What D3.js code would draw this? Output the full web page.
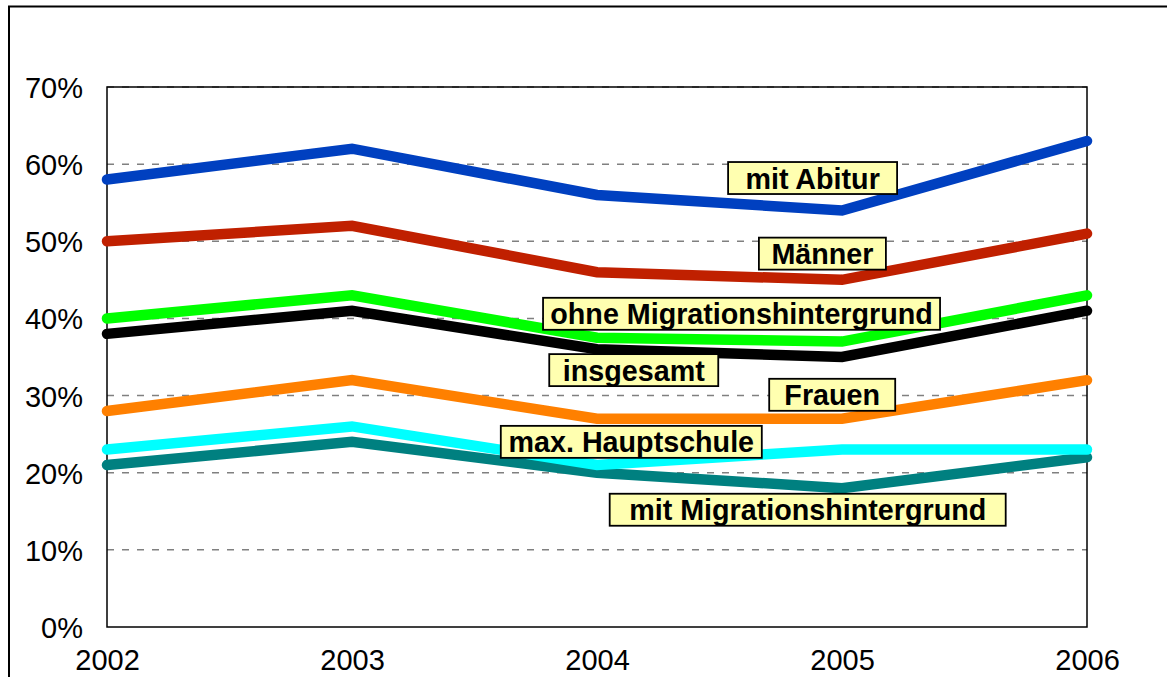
<!DOCTYPE html>
<html>
<head>
<meta charset="utf-8">
<script src="https://cdn.jsdelivr.net/npm/d3@7"></script>
<style>
  html, body { margin: 0; padding: 0; background: #fff; }
  svg { display: block; }
</style>
</head>
<body>
<svg id="chart" width="1167" height="677"></svg>
<script>
// ---- data ----
const years = [2002, 2003, 2004, 2005, 2006];
const yTicks = [0, 10, 20, 30, 40, 50, 60, 70];

const mitMigration   = [21, 24, 20, 18, 22];
const maxHauptschule = [23, 26, 21, 23, 23];
const frauen         = [28, 32, 27, 27, 32];
const insgesamt      = [38, 41, 36, 35, 41];
const ohneMigration  = [40, 43, 37.5, 37, 43];
const maenner        = [50, 52, 46, 45, 51];
const mitAbitur      = [58, 62, 56, 54, 63];

const seriesNames = ["mit Migrationshintergrund", "max. Hauptschule", "Frauen", "insgesamt",
                     "ohne Migrationshintergrund", "Männer", "mit Abitur"];
const seriesValues = [mitMigration, maxHauptschule, frauen, insgesamt, ohneMigration, maenner, mitAbitur];
const seriesColors = ["#008080", "#00FFFF", "#FF8000", "#000000", "#00FF00", "#C02000", "#0040C0"];

// label anchors in data space (year, percent) and box widths
const labelText  = ["mit Abitur", "Männer", "ohne Migrationshintergrund", "insgesamt",
                    "Frauen", "max. Hauptschule", "mit Migrationshintergrund"];
const labelYear  = [2004.88, 2004.92, 2004.59, 2004.15, 2004.96, 2004.14, 2004.86];
const labelPct   = [58.2, 48.4, 40.6, 33.3, 30.1, 24.0, 15.2];
const labelWidth = [169, 127, 397, 169, 126, 261, 396];

// ---- layout ----
const svg = d3.select("#chart");
const mLeft = 107, mRight = 1087, mTop = 87, mBottom = 627;

const x = d3.scaleLinear().domain([2002, 2006]).range([mLeft, mRight]);
const y = d3.scaleLinear().domain([0, 70]).range([mBottom, mTop]);

// outer frame (only top & left visible)
svg.append("rect")
  .attr("x", 9).attr("y", 6.5)
  .attr("width", 1300).attr("height", 1000)
  .attr("fill", "none").attr("stroke", "#000").attr("stroke-width", 2);

// gridlines
svg.append("g")
  .selectAll("line")
  .data(yTicks.filter(d => d > 0))
  .join("line")
  .attr("x1", mLeft).attr("x2", mRight)
  .attr("y1", d => y(d)).attr("y2", d => y(d))
  .attr("stroke", "#808080")
  .attr("stroke-width", 1.5)
  .attr("stroke-dasharray", "7,8");

// plot border
svg.append("rect")
  .attr("x", mLeft).attr("y", mTop)
  .attr("width", mRight - mLeft).attr("height", mBottom - mTop)
  .attr("fill", "none").attr("stroke", "#000").attr("stroke-width", 1.5);

// y axis labels
const yAxis = d3.axisLeft(y).tickValues(yTicks).tickFormat(d => d + "%").tickSize(0).tickPadding(24);
const gy = svg.append("g").attr("transform", `translate(${mLeft},0)`).call(yAxis);
gy.select(".domain").remove();
gy.selectAll("text")
  .attr("font-family", "Liberation Sans, Arial, sans-serif")
  .attr("font-size", 29)
  .attr("fill", "#000")
  .attr("dy", "0.36em");

// x axis labels
const xAxis = d3.axisBottom(x).tickValues(years).tickFormat(d3.format("d")).tickSize(0).tickPadding(0);
const gx = svg.append("g").attr("transform", `translate(0,${mBottom})`).call(xAxis);
gx.select(".domain").remove();
gx.selectAll("text")
  .attr("font-family", "Liberation Sans, Arial, sans-serif")
  .attr("font-size", 29)
  .attr("fill", "#000")
  .attr("y", 43)
  .attr("dy", "0");

// lines
const line = d3.line().x((d, i) => x(years[i])).y(d => y(d));
svg.append("g")
  .selectAll("path")
  .data(seriesValues)
  .join("path")
  .attr("d", d => line(d))
  .attr("fill", "none")
  .attr("stroke", (d, i) => seriesColors[i])
  .attr("stroke-width", 10.5)
  .attr("stroke-linecap", "round")
  .attr("stroke-linejoin", "miter");

// labels
const lg = svg.append("g")
  .selectAll("g")
  .data(labelText)
  .join("g")
  .attr("transform", (d, i) => `translate(${x(labelYear[i])},${y(labelPct[i])})`);

lg.append("rect")
  .attr("x", (d, i) => -labelWidth[i] / 2)
  .attr("y", -16)
  .attr("width", (d, i) => labelWidth[i])
  .attr("height", 32)
  .attr("fill", "#FFFFB0")
  .attr("stroke", "#000")
  .attr("stroke-width", 1.8);

lg.append("text")
  .text(d => d)
  .attr("text-anchor", "middle")
  .attr("y", 10.5)
  .attr("font-family", "Liberation Sans, Arial, sans-serif")
  .attr("font-weight", "bold")
  .attr("font-size", 28.7)
  .attr("fill", "#000");
</script>
</body>
</html>
